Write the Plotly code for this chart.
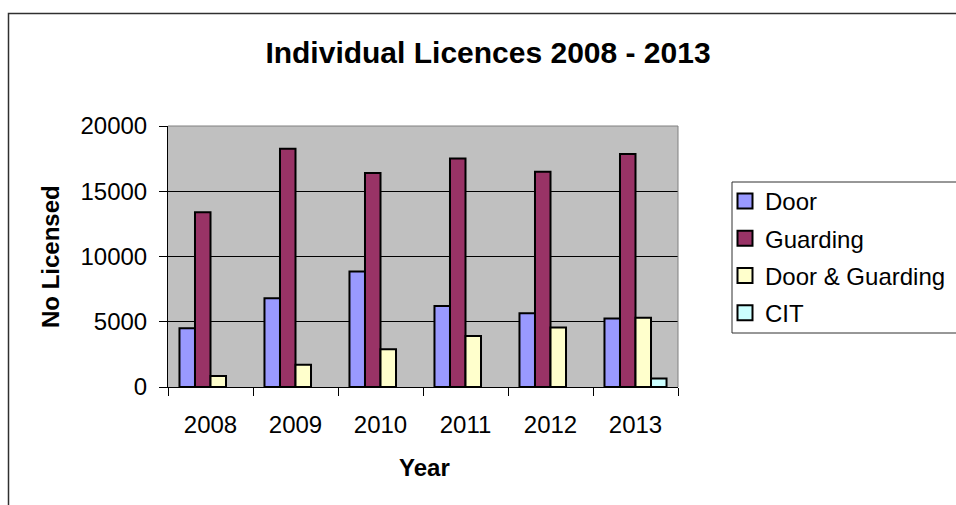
import plotly.graph_objects as go

years = ["2008", "2009", "2010", "2011", "2012", "2013"]
door = [4500, 6800, 8850, 6200, 5650, 5250]
guarding = [13400, 18250, 16400, 17500, 16500, 17850]
door_guarding = [850, 1700, 2900, 3900, 4550, 5300]
cit = [None, None, None, None, None, 650]

series_names = ["Door", "Guarding", "Door & Guarding", "CIT"]
series_values = [door, guarding, door_guarding, cit]
series_colors = ["#9999FF", "#993366", "#FFFFCC", "#CCFFFF"]

W, H = 956, 505
L, R, T, B = 168, 278, 126, 118
PW, PH = W - L - R, H - T - B

def px_x(x):
    return (x - L) / PW

def px_y(y):
    return (H - B - y) / PH

FONT = "Liberation Sans, Arial, sans-serif"

fig = go.Figure()
for i, (name, vals, col) in enumerate(zip(series_names, series_values, series_colors)):
    fig.add_trace(go.Bar(
        x=years, y=vals, name=name, legendgroup=f"g{i}", showlegend=False,
        marker=dict(color=col, line=dict(color="black", width=2)),
    ))
# legend entries with larger square swatches
for i, (name, col) in enumerate(zip(series_names, series_colors)):
    fig.add_trace(go.Scatter(
        x=[None], y=[None], mode="markers", name=name, legendgroup=f"g{i}",
        marker=dict(symbol="square", size=15, color=col, line=dict(color="black", width=2)),
        hoverinfo="skip",
    ))

fig.update_layout(
    width=W, height=H,
    margin=dict(l=L, r=R, t=T, b=B, pad=0, autoexpand=False),
    paper_bgcolor="white",
    plot_bgcolor="#C0C0C0",
    barmode="group",
    bargap=0.27,
    bargroupgap=0,
    font=dict(family=FONT, size=24, color="black"),
    title=dict(text="<b>Individual Licences 2008 - 2013</b>",
               x=488 / W, xref="container", xanchor="center",
               y=1 - 52 / H, yref="container", yanchor="middle",
               font=dict(size=30, family=FONT, color="black")),
    showlegend=True,
    legend=dict(
        x=px_x(725), y=px_y(179), xanchor="left", yanchor="top",
        xref="paper", yref="paper",
        bgcolor="rgba(0,0,0,0)", borderwidth=0,
        font=dict(size=24, family=FONT, color="black"),
        traceorder="grouped", tracegroupgap=3,
        itemclick=False, itemdoubleclick=False,
    ),
    xaxis=dict(
        showline=True, linecolor="black", linewidth=1,
        ticks="outside", tickson="boundaries", ticklen=8, tickcolor="black",
        ticklabelstandoff=16,
        tickfont=dict(size=24, family=FONT, color="black"),
        showgrid=False, fixedrange=True,
    ),
    yaxis=dict(
        range=[0, 20000], tick0=0, dtick=5000, tickformat="d",
        showline=True, linecolor="black", linewidth=1,
        ticks="outside", ticklen=8, tickcolor="black",
        ticklabelstandoff=7,
        tickfont=dict(size=24, family=FONT, color="black"),
        showgrid=True, gridcolor="black", gridwidth=1,
        zeroline=False, fixedrange=True,
    ),
    shapes=[
        # outer chart border
        dict(type="rect", xref="paper", yref="paper",
             x0=px_x(8.5), x1=px_x(1200), y0=px_y(700), y1=px_y(13.5),
             line=dict(color="#303030", width=1.5), fillcolor="rgba(0,0,0,0)", layer="below"),
        # plot area top & right border
        dict(type="line", xref="paper", yref="paper", x0=0, x1=1, y0=1, y1=1,
             line=dict(color="#808080", width=1)),
        dict(type="line", xref="paper", yref="paper", x0=1, x1=1, y0=0, y1=1,
             line=dict(color="#808080", width=1)),
        # legend box
        dict(type="rect", xref="paper", yref="paper",
             x0=px_x(732), x1=px_x(1200), y0=px_y(333), y1=px_y(182),
             line=dict(color="#303030", width=1), fillcolor="rgba(0,0,0,0)"),
    ],
    annotations=[
        dict(text="<b>No Licensed</b>", xref="paper", yref="paper",
             x=px_x(50), y=px_y(257), textangle=-90, showarrow=False,
             xanchor="center", yanchor="middle",
             font=dict(size=24, family=FONT, color="black")),
        dict(text="<b>Year</b>", xref="paper", yref="paper",
             x=px_x(424), y=px_y(467), showarrow=False,
             xanchor="center", yanchor="middle",
             font=dict(size=24, family=FONT, color="black")),
    ],
)

fig.write_html("out.html", config={"displayModeBar": False},
               post_script="document.body.style.margin='0';document.body.style.overflow='hidden';")
